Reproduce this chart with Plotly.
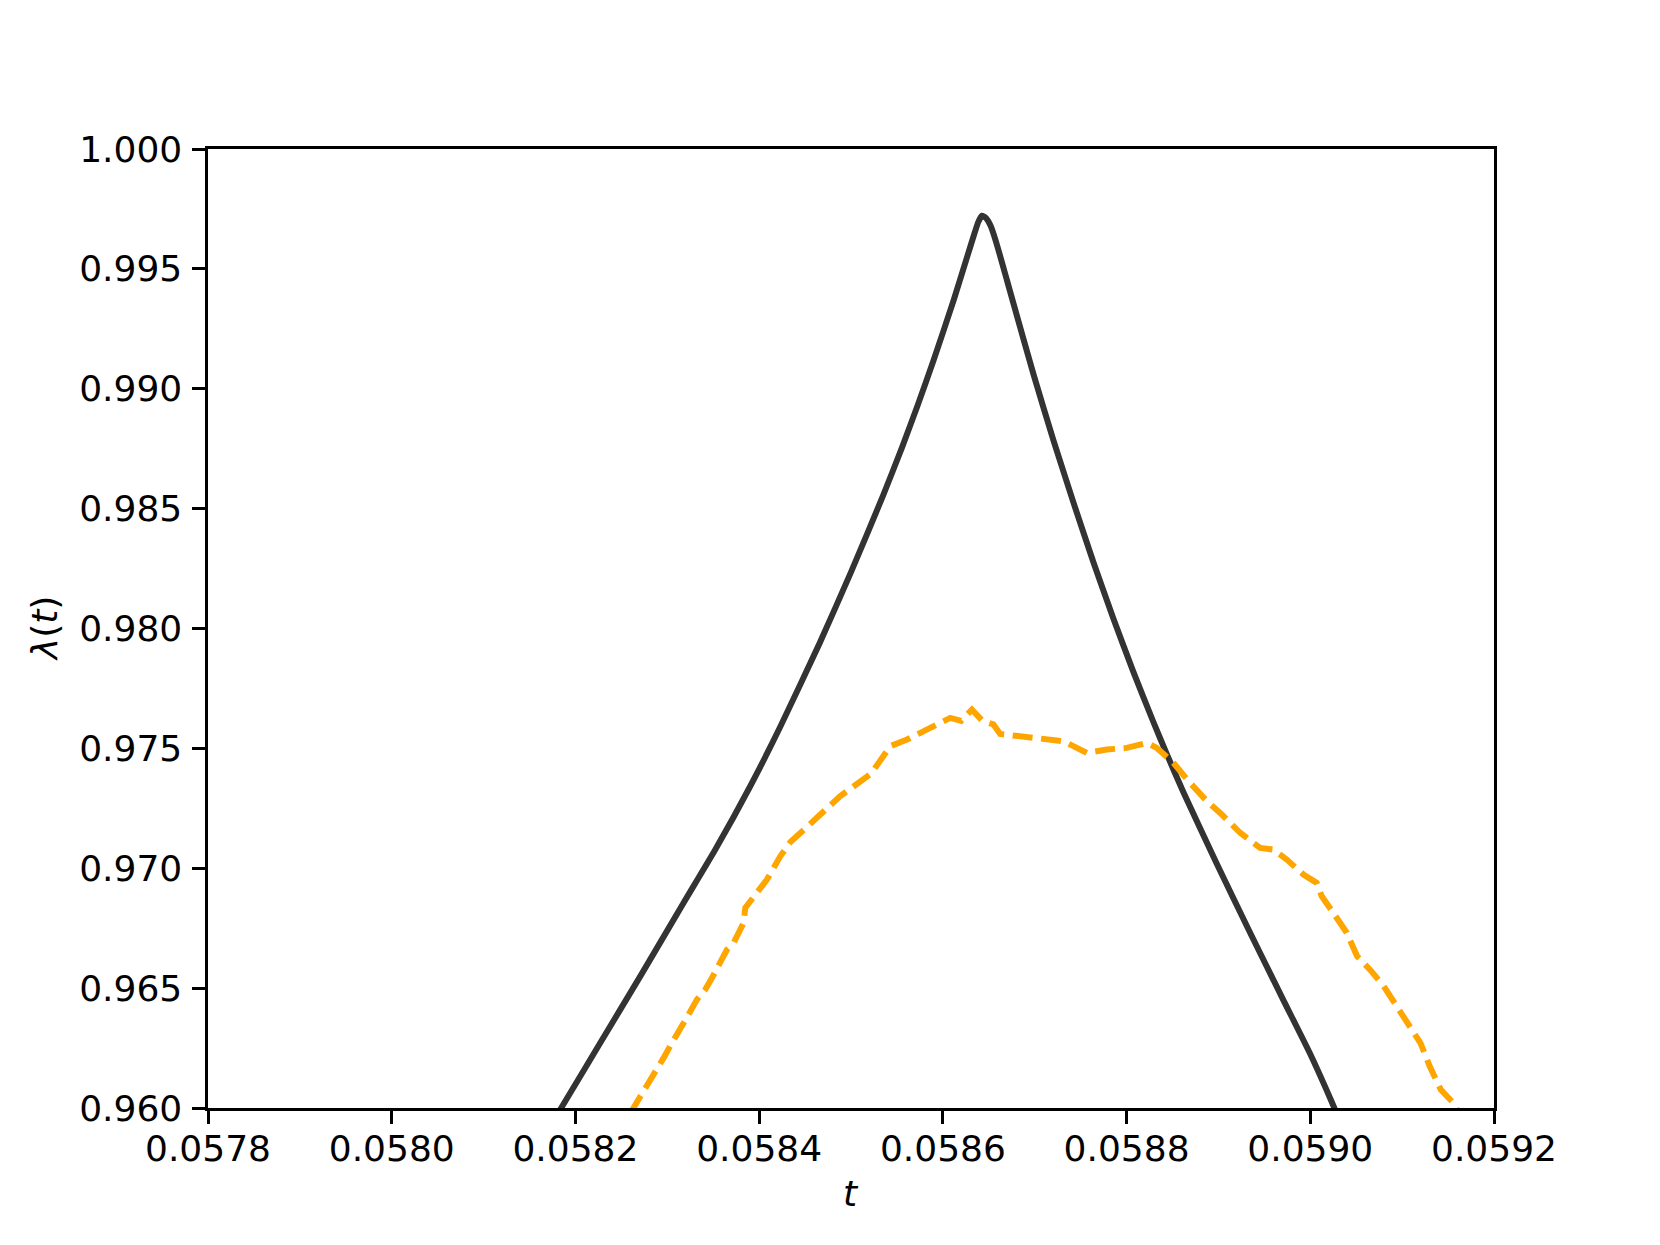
import plotly.graph_objects as go

# exact solution (solid) and estimate (dashed)
t_exact = [0.0581760, 0.0581845, 0.0582271, 0.0582707, 0.0583178, 0.0583523,
           0.0583900, 0.0584230, 0.0584660, 0.0585000, 0.0585350, 0.0585560,
           0.0585720, 0.0585900, 0.0586120, 0.0586260, 0.0586350, 0.0586385,
           0.0586425, 0.0586470, 0.0586520, 0.0586580, 0.0586696, 0.0586769,
           0.0586987, 0.0587204, 0.0587422, 0.0587640, 0.0587857, 0.0588075,
           0.0588292, 0.0588438, 0.0588620, 0.0588982, 0.0589345, 0.0589707,
           0.0589997, 0.0590234, 0.0590300]
lam_exact = [0.95945, 0.96000, 0.96272, 0.96550, 0.96856, 0.97078,
             0.97340, 0.97590, 0.97940, 0.98235, 0.98555, 0.98760,
             0.98925, 0.99120, 0.99372, 0.99545, 0.99655, 0.99695,
             0.99722, 0.99712, 0.99680, 0.99612, 0.99455, 0.99355,
             0.99060, 0.98785, 0.98525, 0.98275, 0.98041, 0.97818,
             0.97610, 0.97476, 0.97316, 0.97019, 0.96731, 0.96450,
             0.96227, 0.96025, 0.95965]

t_est = [0.0582600, 0.0582634, 0.0582707, 0.0582797, 0.0582870, 0.0582960,
         0.0583051, 0.0583142, 0.0583232, 0.0583324, 0.0583414, 0.0583487,
         0.0583559, 0.0583650, 0.0583722, 0.0583831, 0.0583849, 0.0583977,
         0.0584085, 0.0584230, 0.0584340, 0.0584590, 0.0584880, 0.0585220,
         0.0585427, 0.0585610, 0.0585826, 0.0586080, 0.0586200, 0.0586316,
         0.0586430, 0.0586550, 0.0586624, 0.0586842, 0.0587095, 0.0587313,
         0.0587567, 0.0587785, 0.0588002, 0.0588220, 0.0588329, 0.0588510,
         0.0588670, 0.0588874, 0.0589037, 0.0589236, 0.0589454, 0.0589598,
         0.0589744, 0.0589925, 0.0590070, 0.0590125, 0.0590251, 0.0590397,
         0.0590510, 0.0590650, 0.0590800, 0.0590940, 0.0591050, 0.0591200,
         0.0591300, 0.0591420, 0.0591540, 0.0591620]
lam_est = [0.95980, 0.96001, 0.96043, 0.96105, 0.96154, 0.96209,
           0.96272, 0.96327, 0.96390, 0.96453, 0.96494, 0.96543,
           0.96591, 0.96661, 0.96689, 0.96772, 0.96835, 0.96897,
           0.96953, 0.97050, 0.97109, 0.97197, 0.97300, 0.97395,
           0.97509, 0.97537, 0.97579, 0.97627, 0.97615, 0.97662,
           0.97615, 0.97600, 0.97560, 0.97551, 0.97544, 0.97530,
           0.97481, 0.97495, 0.97502, 0.97523, 0.97502, 0.97440,
           0.97365, 0.97280, 0.97224, 0.97148, 0.97085, 0.97078,
           0.97036, 0.96974, 0.96939, 0.96883, 0.96814, 0.96731,
           0.96633, 0.96577, 0.96508, 0.96424, 0.96369, 0.96271,
           0.96174, 0.96077, 0.96028, 0.95980]

x_ticks = [0.0578, 0.0580, 0.0582, 0.0584, 0.0586, 0.0588, 0.0590, 0.0592]
y_ticks = [0.960, 0.965, 0.970, 0.975, 0.980, 0.985, 0.990, 0.995, 1.000]

FONT = "DejaVu Sans"

fig = go.Figure()
fig.add_trace(go.Scatter(x=t_exact, y=lam_exact, mode="lines",
                         line=dict(color="#333333", width=6, shape="spline", smoothing=0.5),
                         showlegend=False))
fig.add_trace(go.Scatter(x=t_est, y=lam_est, mode="lines",
                         line=dict(color="orange", width=6, dash="20px,8.6px"),
                         showlegend=False))

axis_common = dict(showline=True, linecolor="black", linewidth=2.9, mirror=True,
                   ticks="outside", ticklen=12.6, tickwidth=2.9, tickcolor="black",
                   showgrid=False, zeroline=False,
                   tickfont=dict(family=FONT, size=36, color="black"))

fig.update_xaxes(range=[0.0578, 0.0592], tickvals=x_ticks, ticklabelstandoff=-6,
                 ticktext=["{:.4f}".format(v) for v in x_ticks], **axis_common)
fig.update_yaxes(range=[0.960, 1.000], tickvals=y_ticks, ticklabelstandoff=3,
                 ticktext=["{:.3f}".format(v) for v in y_ticks], **axis_common)

fig.add_annotation(text="<i>λ</i>(<i>t</i>)", xref="paper", yref="paper",
                   x=-0.127, y=0.5, textangle=-90, showarrow=False,
                   xanchor="center", yanchor="middle",
                   font=dict(family=FONT, size=36, color="black"))
fig.add_annotation(text="<i>t</i>", xref="paper", yref="paper",
                   x=0.5, y=-0.089, showarrow=False,
                   xanchor="center", yanchor="middle",
                   font=dict(family=FONT, size=36, color="black"))

# page body adds an 8px offset, so margins are shifted to compensate
fig.update_layout(width=1660, height=1245,
                  margin=dict(l=199.5, r=174, t=141.4, b=144.9, autoexpand=False),
                  paper_bgcolor="white", plot_bgcolor="white")

fig.write_html("out.html")
